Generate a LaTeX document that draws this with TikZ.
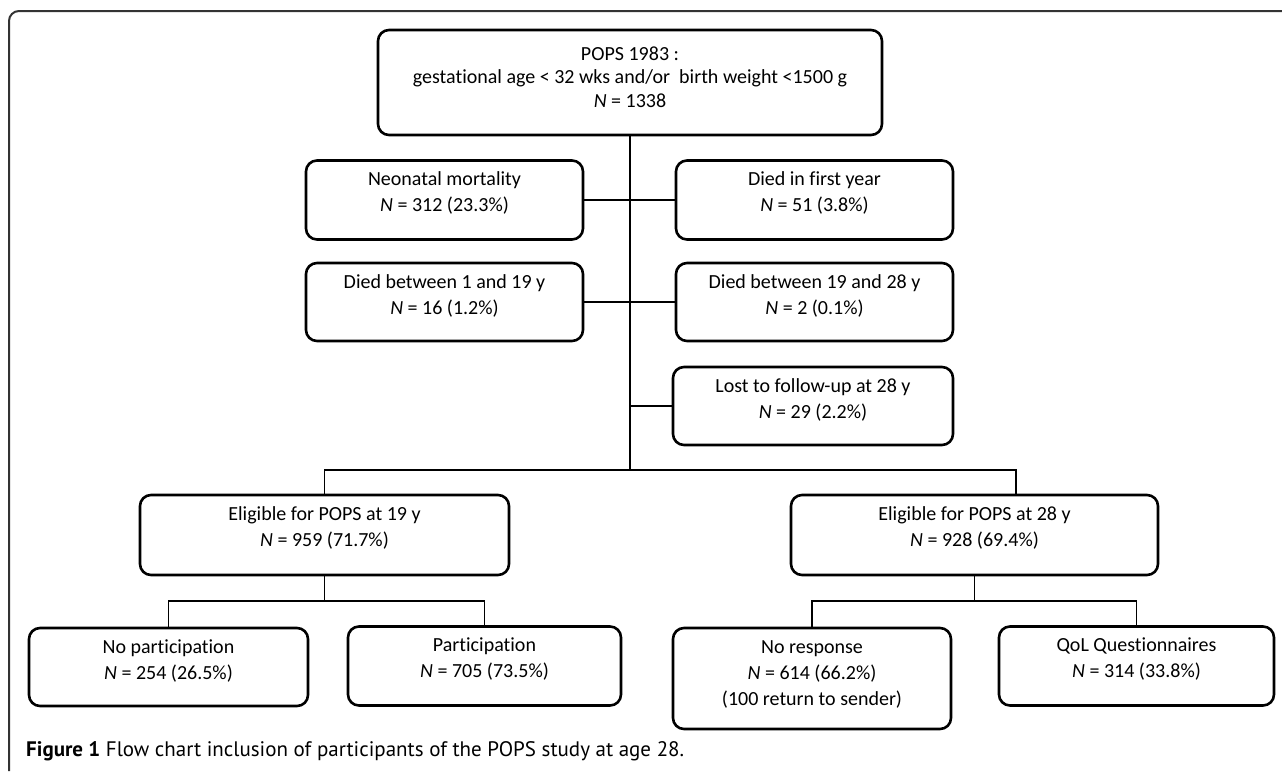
\documentclass[tikz,border=0pt]{standalone}
\usepackage{fontspec}
\setmainfont{Carlito}[Ligatures=NoCommon]
\newfontfamily\capfont{PT Sans}
\newcommand\bxtext[4]{\begin{minipage}[c][#2pt][t]{#1pt}\centering\fontsize{20}{#3}\selectfont\rule{0pt}{25pt}#4\end{minipage}}
\begin{document}
\begin{tikzpicture}[x=1pt,y=-1pt,
  bx/.style={draw=black, line width=2.6pt, rounded corners=11pt, inner sep=0pt, outer sep=0pt},
  conn/.style={draw=black, line width=1.5pt},
  frm/.style={draw=black!80, line width=2pt, rounded corners=10pt}]
\useasboundingbox (0,0) rectangle (1282,771);
\fill[white] (0,0) rectangle (1282,771);
% frame
\draw[frm] (9,771) -- (9,11) -- (1282,11);
% boxes
\node[bx] (top) at (630,82.5) {\begin{minipage}[c][105pt][t]{504pt}\centering\fontsize{20}{23.5}\selectfont\rule{0pt}{30pt}POPS 1983 :\\ gestational age < 32 wks and/or\ \ birth weight <1500 g\\ \textit{N} = 1338\end{minipage}};
\node[bx] (neo) at (444.5,200) {\bxtext{277}{79}{26}{Neonatal mortality\\ \textit{N} = 312 (23.3\%)}};
\node[bx] (dfy) at (814.5,200) {\bxtext{277}{79}{26}{Died in first year\\ \textit{N} = 51 (3.8\%)}};
\node[bx] (d119) at (444.5,302) {\bxtext{277}{78}{26}{Died between 1 and 19 y\\ \textit{N} = 16 (1.2\%)}};
\node[bx] (d1928) at (814.5,302) {\bxtext{277}{78}{26}{Died between 19 and 28 y\\ \textit{N} = 2 (0.1\%)}};
\node[bx] (lost) at (813,406) {\bxtext{280}{78}{26}{Lost to follow-up at 28 y\\ \textit{N} = 29 (2.2\%)}};
\node[bx] (e19) at (324.5,535) {\bxtext{369}{80}{26}{Eligible for POPS at 19 y\\ \textit{N} = 959 (71.7\%)}};
\node[bx] (e28) at (974.5,535) {\bxtext{367}{80}{26}{Eligible for POPS at 28 y\\ \textit{N} = 928 (69.4\%)}};
\node[bx] (nopart) at (168.5,667) {\bxtext{279}{78}{26}{No participation\\ \textit{N} = 254 (26.5\%)}};
\node[bx] (part) at (484.5,666) {\bxtext{273}{79}{26}{Participation\\ \textit{N} = 705 (73.5\%)}};
\node[bx] (nores) at (812,678.5) {\bxtext{278}{101}{26}{No response\\ \textit{N} = 614 (66.2\%)\\ (100 return to sender)}};
\node[bx] (qol) at (1136.5,666) {\bxtext{275}{79}{26}{QoL Questionnaires\\ \textit{N} = 314 (33.8\%)}};
% connector coordinates
\coordinate (br) at (630,470);
\coordinate (j28) at (1016,495);
\coordinate (h19) at (324.5,601);
\coordinate (h28) at (974.5,601);
% connectors
\draw[conn] (top.south) -- (br);
\draw[conn] (neo.east) -- (dfy.west);
\draw[conn] (d119.east) -- (d1928.west);
\draw[conn] (lost.west) -- (lost.west -| br);
\draw[conn] (e19.north) |- (br) -| (j28);
\draw[conn] (e19.south) -- (h19);
\draw[conn] (nopart.north) |- (h19) -| (part.north);
\draw[conn] (e28.south) -- (h28);
\draw[conn] (nores.north) |- (h28) -| (qol.north);
% caption
\node[anchor=west, inner sep=0pt] (cap) at (26,751) {\capfont\fontsize{21}{24}\selectfont\textbf{Figure 1} Flow chart inclusion of participants of the POPS study at age 28.};
\end{tikzpicture}
\end{document}
